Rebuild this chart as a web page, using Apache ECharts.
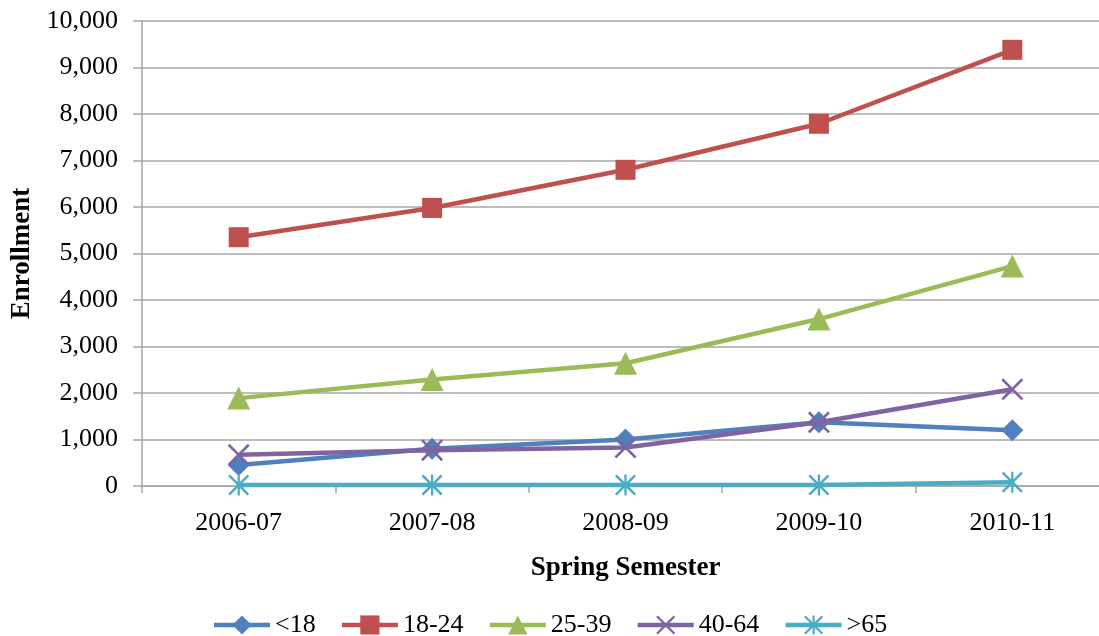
<!DOCTYPE html>
<html>
<head>
<meta charset="utf-8">
<script src="https://cdn.jsdelivr.net/npm/echarts@6/dist/echarts.min.js"></script>
<style>
html,body{margin:0;padding:0;background:#fff;}
#chart{width:1099px;height:636px;}
</style>
</head>
<body>
<div id="chart"></div>
<script>
var categories = ['2006-07', '2007-08', '2008-09', '2009-10', '2010-11'];
var seriesNames = ['<18', '18-24', '25-39', '40-64', '>65'];
var under18 = [450, 800, 1000, 1370, 1200];
var age18to24 = [5350, 5980, 6800, 7790, 9380];
var age25to39 = [1890, 2290, 2640, 3590, 4730];
var age40to64 = [670, 770, 830, 1370, 2080];
var over65 = [20, 20, 20, 20, 80];
var yTicks = [0, 1000, 2000, 3000, 4000, 5000, 6000, 7000, 8000, 9000, 10000];

var colors = ['#4F81BD', '#C0504D', '#9BBB59', '#8064A2', '#4BACC6'];
var xPath = 'path://M0,1.7 L1.7,0 L10,8.3 L18.3,0 L20,1.7 L11.7,10 L20,18.3 L18.3,20 L10,11.7 L1.7,20 L0,18.3 L8.3,10 Z';
var starPath = 'path://M0,1.7 L1.7,0 L10,8.3 L18.3,0 L20,1.7 L11.7,10 L20,18.3 L18.3,20 L10,11.7 L1.7,20 L0,18.3 L8.3,10 Z M8.9,0 L11.1,0 L11.1,20 L8.9,20 Z';
var symbols = ['diamond', 'rect', 'triangle', xPath, starPath];
var sizes = [22, 20, 23, 22, 21];
var dataSets = [under18, age18to24, age25to39, age40to64, over65];

var font = 'Liberation Serif, Times New Roman, serif';
var chart = echarts.init(document.getElementById('chart'));
var series = seriesNames.map(function (n, i) {
  return {
    name: n,
    type: 'line',
    data: dataSets[i],
    symbol: symbols[i],
    symbolSize: sizes[i],
    showAllSymbol: true,
    lineStyle: { color: colors[i], width: 4.5 },
    itemStyle: { color: colors[i] },
    emphasis: { disabled: true },
    animation: false,
    z: 2 + i
  };
});

chart.setOption({
  animation: false,
  color: colors,
  grid: { left: 142, top: 21, bottom: 150, right: -10, containLabel: false, outerBoundsMode: 'none' },
  legend: {
    data: seriesNames,
    left: 'center',
    top: 607,
    itemWidth: 56,
    itemHeight: 24,
    itemGap: 24,
    lineStyle: { width: 4.5 },
    textStyle: { fontFamily: font, fontSize: 26, color: '#000' }
  },
  xAxis: {
    type: 'category',
    data: categories,
    boundaryGap: true,
    name: 'Spring Semester',
    nameLocation: 'middle',
    nameGap: 69,
    nameTextStyle: { fontFamily: font, fontSize: 27, fontWeight: 'bold', color: '#000' },
    axisLine: { lineStyle: { color: '#a6a6a6', width: 1.5 } },
    axisTick: { show: true, length: 7, lineStyle: { color: '#a6a6a6', width: 1.5 } },
    axisLabel: { fontFamily: font, fontSize: 26, color: '#000', margin: 24 },
    splitLine: { show: false }
  },
  yAxis: {
    type: 'value',
    min: 0,
    max: 10000,
    interval: 1000,
    name: 'Enrollment',
    nameLocation: 'middle',
    nameGap: 105,
    nameRotate: 90,
    nameTextStyle: { fontFamily: font, fontSize: 27, fontWeight: 'bold', color: '#000' },
    axisLine: { show: true, lineStyle: { color: '#a6a6a6', width: 1.5 } },
    axisTick: { show: true, length: 9, lineStyle: { color: '#a6a6a6', width: 1.5 } },
    axisLabel: {
      fontFamily: font, fontSize: 26, color: '#000', margin: 24,
      formatter: function (v) { return yTicks.indexOf(v) >= 0 ? v.toLocaleString('en-US') : ''; }
    },
    splitLine: { show: true, lineStyle: { color: '#a6a6a6', width: 1.5 } }
  },
  series: series
});
</script>
</body>
</html>
